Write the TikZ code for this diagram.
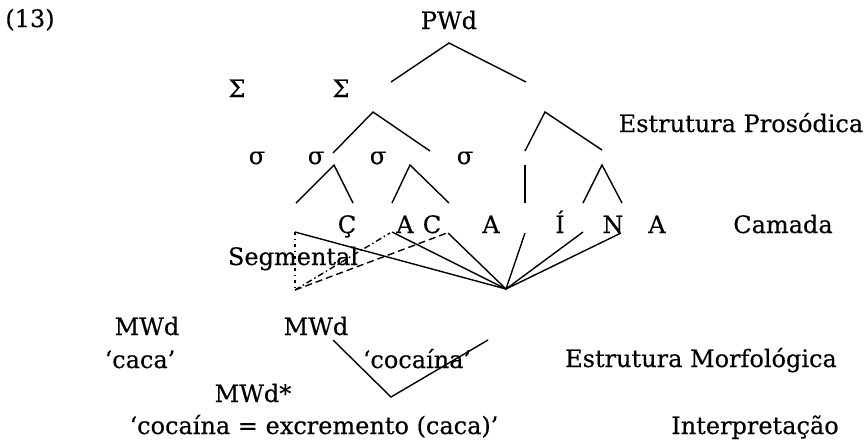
\documentclass[tikz,border=0pt]{standalone}
\usepackage{fontspec}
\setmainfont{DejaVu Serif}[FakeBold=0.3]
\begin{document}
\begin{tikzpicture}[x=1pt,y=-1pt,
  lbl/.style={inner sep=0pt,anchor=base,font=\fontsize{24}{28}\selectfont},
  branch/.style={line width=1.4pt},
  dashbr/.style={line width=1.4pt,dash pattern=on 7pt off 4pt},
  dotbr/.style={line width=1.4pt,dash pattern=on 6pt off 3pt on 1.5pt off 3pt},
  vdot/.style={line width=1.3pt,dash pattern=on 3pt off 4pt on 1pt off 4pt}]
\useasboundingbox (0,0) rectangle (867,440);

% labels (base-centred)
\node[lbl] (ex) at (30,27) {(13)};
\node[lbl] (pwd) at (449,29) {PWd};
\node[lbl] (ft1) at (237,97) {Σ};
\node[lbl] (ft2) at (341,97) {Σ};
\node[lbl] (s1) at (257,164) {σ};
\node[lbl] (s2) at (316,164) {σ};
\node[lbl] (s3) at (378,164) {σ};
\node[lbl] (s4) at (465,164) {σ};
\node[lbl] (prosod) at (741,132) {Estrutura Prosódica};
\node[lbl] (c1) at (347,233) {Ç};
\node[lbl] (c2) at (405,233) {A};
\node[lbl] (c3) at (432,233) {C};
\node[lbl] (c4) at (491,233) {A};
\node[lbl] (c5) at (560,233) {Í};
\node[lbl] (c6) at (613,233) {N};
\node[lbl] (c7) at (657,233) {A};
\node[lbl] (camada) at (783,233) {Camada};
\node[lbl] (segm) at (293,265) {Segmental};
\node[lbl] (mw1) at (147,335) {MWd};
\node[lbl] (mw2) at (316,335) {MWd};
\node[lbl] (gl1) at (140,368) {‘caca’};
\node[lbl] (gl2) at (417,368) {‘cocaína’};
\node[lbl] (morf) at (701,367) {Estrutura Morfológica};
\node[lbl] (mw3) at (253,402) {MWd*};
\node[lbl] (gl3) at (314,434) {‘cocaína = excremento (caca)’};
\node[lbl] (interp) at (755,434) {Interpretação};

% branch end points
\coordinate (pwA) at (449,43);
\coordinate (pwL) at (391,82);
\coordinate (pwR) at (526,82);
\coordinate (fA) at (373,112);
\coordinate (fL) at (333,153);
\coordinate (fR) at (430,151);
\coordinate (gA) at (545,112);
\coordinate (gL) at (525,151);
\coordinate (gR) at (602,150);
\coordinate (sbA) at (334,165);
\coordinate (sbL) at (296,203);
\coordinate (sbR) at (353,203);
\coordinate (scA) at (410,165);
\coordinate (scL) at (392,203);
\coordinate (scR) at (449,203);
\coordinate (vT) at (525,165);
\coordinate (vB) at (525,203);
\coordinate (sdA) at (602,165);
\coordinate (sdL) at (583,203);
\coordinate (sdR) at (622,203);
% segmental fan
\coordinate (fan) at (506,289);
\coordinate (t1) at (295,232);
\coordinate (t2) at (392,232);
\coordinate (t3) at (448,233);
\coordinate (t4) at (525,233);
\coordinate (t5) at (583,232);
\coordinate (t6) at (621,233);
\coordinate (bl) at (295,290);
\coordinate (d1) at (390,233);
\coordinate (d2) at (447,233);
% morphological join
\coordinate (mL) at (333,340);
\coordinate (mB) at (391,397);
\coordinate (mR) at (488,340);

% prosodic tree
\draw[branch] (pwL) -- (pwA) -- (pwR);
\draw[branch] (fL) -- (fA) -- (fR);
\draw[branch] (gL) -- (gA) -- (gR);
\draw[branch] (sbL) -- (sbA) -- (sbR);
\draw[branch] (scL) -- (scA) -- (scR);
\draw[branch] (vT) -- (vB);
\draw[branch] (sdL) -- (sdA) -- (sdR);

% association lines
\foreach \t in {t1,t2,t3,t4,t5,t6}
  \draw[branch] (fan) -- (\t);
\draw[vdot] (t1) -- (bl);
\draw[dotbr] (bl) -- (d1);
\draw[dashbr] (bl) -- (d2);

% morphological structure
\draw[branch] (mL) -- (mB) -- (mR);
\end{tikzpicture}
\end{document}
